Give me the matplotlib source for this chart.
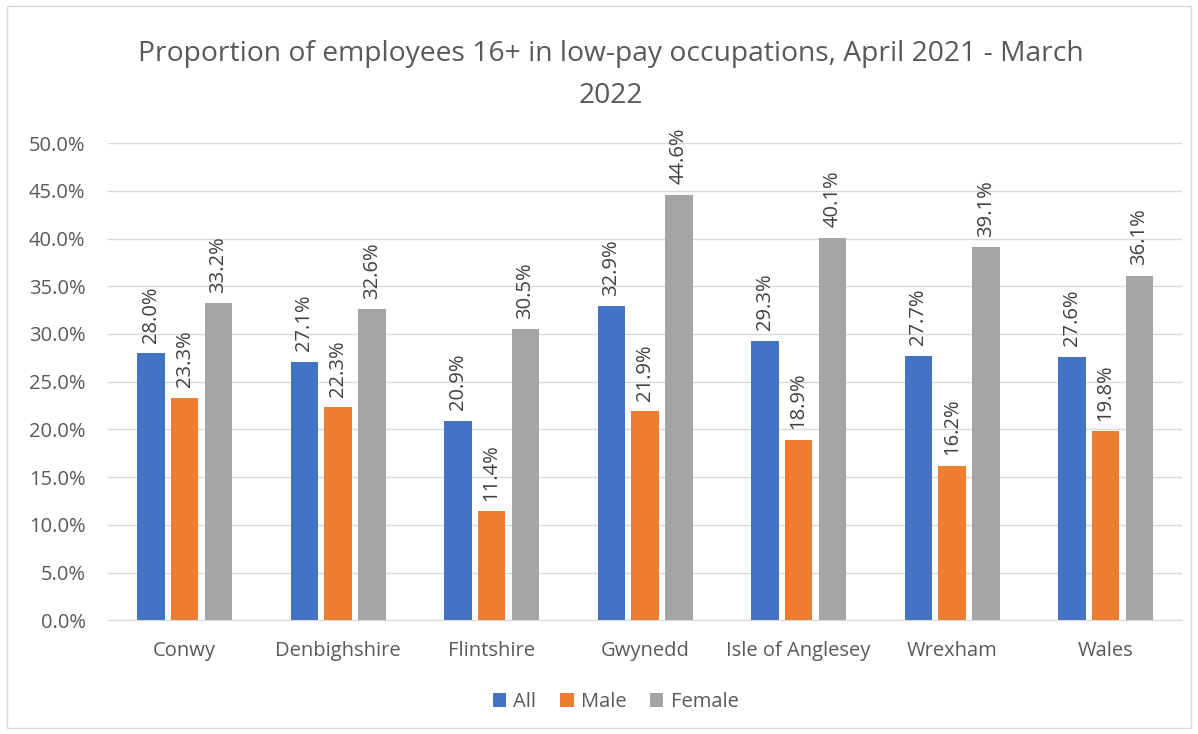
#!/usr/bin/env python3
# plot.py

import matplotlib.pyplot as plt
from matplotlib.patches import Rectangle
from matplotlib.ticker import FuncFormatter, MultipleLocator
import numpy as np

areas = ["Conwy", "Denbighshire", "Flintshire", "Gwynedd",
         "Isle of Anglesey", "Wrexham", "Wales"]
all_pct = [28.0, 27.1, 20.9, 32.9, 29.3, 27.7, 27.6]
male_pct = [23.3, 22.3, 11.4, 21.9, 18.9, 16.2, 19.8]
female_pct = [33.2, 32.6, 30.5, 44.6, 40.1, 39.1, 36.1]

series = [("All", all_pct, "#4472C4"),
          ("Male", male_pct, "#ED7D31"),
          ("Female", female_pct, "#A5A5A5")]


def plot(ax):
    x = np.arange(len(areas))
    width = 0.18
    step = 0.22
    for i, (name, vals, color) in enumerate(series):
        pos = x + (i - 1) * step
        bars = ax.bar(pos, vals, width, color=color, label=name, zorder=2)
        for b, v in zip(bars, vals):
            ax.text(b.get_x() + b.get_width() / 2, v + 1.1, f"{v:.1f}%",
                    rotation=90, ha="center", va="bottom",
                    fontsize=14.5, color="#404040")

    ax.set_ylim(0, 50)
    ax.set_xlim(-0.5, len(areas) - 0.5)
    ax.yaxis.set_major_locator(MultipleLocator(5))
    ax.yaxis.set_major_formatter(FuncFormatter(lambda v, p: f"{v:.1f}%"))
    ax.set_xticks(x)
    ax.set_xticklabels(areas)
    ax.tick_params(axis="both", length=0, labelsize=14.5, colors="#595959")
    ax.tick_params(axis="x", pad=15)
    ax.tick_params(axis="y", pad=16)
    ax.grid(axis="y", color="#D9D9D9", linewidth=1, zorder=0)
    for s in ["top", "right", "left"]:
        ax.spines[s].set_visible(False)
    ax.spines["bottom"].set_color("#D9D9D9")


def main():
    plt.rcParams["font.family"] = ["Open Sans", "DejaVu Sans"]
    fig = plt.figure(figsize=(11.98, 7.34), dpi=100)
    ax = fig.add_axes([0.09, 0.155, 0.897, 0.65])
    plot(ax)

    fig.suptitle("Proportion of employees 16+ in low-pay occupations, April 2021 - March\n2022",
                 x=0.51, y=0.946, va="top", fontsize=20.3, color="#595959",
                 linespacing=1.7)

    fig.legend(loc="lower center", bbox_to_anchor=(0.514, 0.005), ncol=3,
               frameon=False, fontsize=14.5, handlelength=0.65, handleheight=0.65,
               columnspacing=1.2, handletextpad=0.35, labelcolor="#595959")

    fig.patches.append(Rectangle((0.006, 0.008), 0.988, 0.984,
                                 transform=fig.transFigure, fill=False,
                                 edgecolor="#D9D9D9", linewidth=1))

    fig.savefig("out.png", dpi=100)


if __name__ == "__main__":
    main()
